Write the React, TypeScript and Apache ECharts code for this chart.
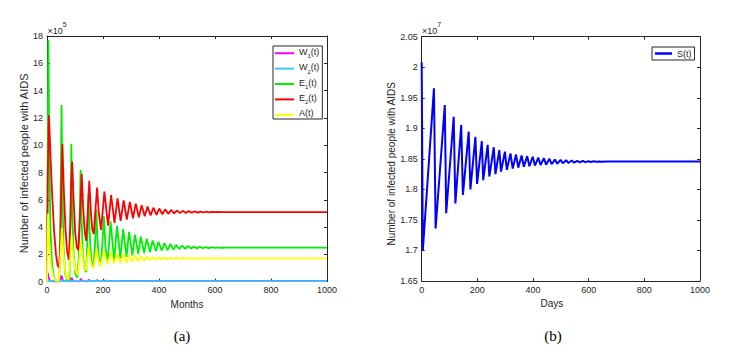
import React, { useEffect, useRef } from "react";
import * as echarts from "echarts";

const FONT = "Liberation Sans, Arial, sans-serif";
const SERIF = "Liberation Serif, Times New Roman, serif";
const INK = "#262626";

// Left panel (a): months, values in units of 1e5
const MONTH_TICKS = [0, 200, 400, 600, 800, 1000];
const LEFT_Y_TICKS = [0, 2, 4, 6, 8, 10, 12, 14, 16, 18];
const LEFT_NAMES = ["W1(t)", "W2(t)", "E1(t)", "E2(t)", "A(t)"];
const LEFT_COLORS = ["#ff00ff", "#33ccff", "#00ee00", "#ff0000", "#ffff00"];

const W1: [number, number][] = [
  [0, 0.1], [3, 0.65], [7, 0.2], [14, 0.03], [46, 0.02], [52, 0.45], [57, 0.06],
  [84, 0.02], [88, 0.3], [93, 0.04], [117, 0.03], [121, 0.22], [126, 0.04],
  [146, 0.03], [149, 0.16], [154, 0.04], [175, 0.04], [178, 0.12], [183, 0.04],
  [202, 0.04], [205, 0.09], [210, 0.04], [227, 0.04], [230, 0.07], [235, 0.04],
  [260, 0.05], [1000, 0.05],
];

const W2: [number, number][] = [[0, 0.2], [4, 0.05], [1000, 0.04]];

const E1: [number, number][] = [
  [0, 0.3], [2, 8], [5, 17.7], [8, 10], [12, 4], [18, 1.2], [25, 0.3], [34, 0.05],
  [44, 0.1], [48, 5], [52, 12.95], [55, 7], [59, 2.5], [65, 0.6], [72, 0.1],
  [80, 0.2], [84, 4.5], [87, 10.1], [90, 5.5], [95, 2], [101, 0.6], [108, 0.3],
  [114, 1.8], [117, 5], [120, 8.2], [123, 5], [128, 2], [134, 0.9], [140, 0.7],
  [144, 3], [148, 6.5], [152, 3.8], [158, 1.6], [165, 1.0], [171, 2.5], [176, 5.3],
  [180, 3.2], [186, 1.5], [192, 1.2], [198, 2.8], [203, 4.8], [209, 2.5],
  [217, 1.4], [227, 4.4], [240, 1.55], [250, 4.1], [262, 1.7], [272, 3.85],
  [284, 1.82], [293, 3.65], [305, 1.93], [314, 3.45], [326, 2.03], [335, 3.3],
  [347, 2.1], [356, 3.15], [368, 2.17], [377, 3.02], [389, 2.23], [398, 2.92],
  [410, 2.28], [419, 2.83], [431, 2.32], [440, 2.76], [452, 2.36], [461, 2.7],
  [473, 2.39], [482, 2.65], [494, 2.41], [503, 2.61], [515, 2.43], [524, 2.58],
  [536, 2.44], [545, 2.56], [557, 2.45], [566, 2.54], [578, 2.46], [587, 2.53],
  [599, 2.47], [608, 2.51], [620, 2.48], [640, 2.5], [1000, 2.5],
];

const E2: [number, number][] = [
  [0, 0.5], [3, 8], [7, 12.2], [12, 9.5], [18, 6.5], [25, 3.8], [32, 2], [38, 1.2],
  [44, 1.0], [48, 3], [51, 7], [55, 10.1], [60, 6.8], [66, 3.8], [72, 2.2],
  [78, 1.6], [83, 4], [86, 7], [90, 8.8], [95, 6], [101, 3.5], [107, 2.5],
  [112, 2.3], [117, 4.5], [124, 7.9], [129, 5.5], [135, 3.6], [140, 3.0],
  [145, 4.8], [151, 7.4], [157, 5], [162, 3.8], [167, 3.5], [172, 5], [179, 6.9],
  [185, 5], [193, 3.8], [205, 6.6], [218, 4.1], [229, 6.35], [241, 4.3],
  [252, 6.1], [263, 4.45], [274, 5.95], [285, 4.55], [296, 5.85], [307, 4.65],
  [317, 5.72], [328, 4.72], [338, 5.6], [349, 4.8], [359, 5.5], [370, 4.86],
  [380, 5.42], [391, 4.9], [401, 5.36], [412, 4.94], [422, 5.3], [433, 4.97],
  [443, 5.26], [454, 5.0], [464, 5.22], [475, 5.02], [485, 5.19], [496, 5.04],
  [506, 5.17], [517, 5.05], [527, 5.15], [538, 5.06], [548, 5.14], [559, 5.07],
  [569, 5.13], [580, 5.08], [590, 5.12], [601, 5.09], [611, 5.11], [630, 5.1],
  [1000, 5.1],
];

const A: [number, number][] = [
  [0, 0], [2, 3.5], [4, 5.0], [8, 3], [14, 1.2], [22, 0.4], [32, 0.1], [42, 0.05],
  [47, 1.5], [53, 3.95], [58, 2.2], [64, 0.9], [70, 0.3], [76, 0.15], [82, 1.5],
  [88, 3.4], [93, 2], [100, 0.9], [106, 0.6], [110, 0.5], [115, 1.5], [121, 3.0],
  [127, 1.8], [133, 1.0], [138, 0.8], [143, 1.6], [149, 2.6], [155, 1.6],
  [161, 1.1], [166, 1.0], [171, 1.6], [177, 2.4], [183, 1.6], [192, 1.15],
  [203, 2.25], [216, 1.27], [228, 2.12], [239, 1.34], [251, 2.05], [262, 1.38],
  [273, 2.0], [284, 1.42], [294, 1.96], [305, 1.46], [315, 1.92], [326, 1.5],
  [336, 1.88], [347, 1.54], [357, 1.84], [368, 1.57], [378, 1.81], [389, 1.6],
  [399, 1.79], [410, 1.62], [420, 1.77], [431, 1.64], [441, 1.755], [452, 1.66],
  [462, 1.74], [473, 1.675], [483, 1.73], [494, 1.69], [504, 1.72], [515, 1.7],
  [530, 1.715], [1000, 1.71],
];

// Right panel (b): days, values in units of 1e7
const DAY_TICKS = [0, 200, 400, 600, 800, 1000];
const RIGHT_Y_TICKS = [1.65, 1.7, 1.75, 1.8, 1.85, 1.9, 1.95, 2, 2.05];
const S: [number, number][] = [
  [0, 2.008], [4, 1.7], [44, 1.9655], [50, 1.736], [83, 1.938], [88, 1.761],
  [115, 1.919], [121, 1.777], [142, 1.9055], [148, 1.791], [169, 1.8945],
  [175, 1.8], [193, 1.886], [199, 1.809], [216, 1.879], [221, 1.815],
  [237, 1.873], [243, 1.821], [259, 1.869], [265, 1.825], [279, 1.8645],
  [285, 1.829], [299, 1.8617], [306, 1.832], [319, 1.859], [327, 1.834],
  [339, 1.857], [347, 1.8355], [359, 1.8555], [367, 1.837], [379, 1.8545],
  [387, 1.838], [399, 1.8535], [407, 1.839], [419, 1.852], [427, 1.8398],
  [439, 1.851], [447, 1.8405], [459, 1.85], [467, 1.8413], [479, 1.849],
  [487, 1.842], [499, 1.8483], [507, 1.8427], [519, 1.8477], [527, 1.8433],
  [539, 1.8472], [547, 1.8438], [559, 1.8468], [567, 1.8442], [579, 1.8465],
  [587, 1.8446], [599, 1.8462], [607, 1.8449], [619, 1.846], [627, 1.8451],
  [639, 1.8458], [647, 1.8453], [665, 1.8455], [1000, 1.8455],
];

const Y_NAME = "Number of infected people with AIDS";

function makeAxis(
  gridIndex: number,
  position: string,
  ticks: number[],
  labels: boolean,
  extra: any = {}
) {
  const step = +(ticks[1] - ticks[0]).toFixed(4);
  return {
    type: "value",
    gridIndex,
    position,
    min: ticks[0],
    max: ticks[ticks.length - 1],
    interval: step,
    axisLine: { show: true, onZero: false, lineStyle: { color: INK, width: 1 } },
    axisTick: { show: true, inside: true, length: 3, lineStyle: { color: INK, width: 1 } },
    splitLine: { show: false },
    axisLabel: {
      show: labels,
      color: INK,
      fontSize: 9,
      fontFamily: FONT,
      margin: 4,
      formatter: (v: number) => String(parseFloat(v.toFixed(2))),
    },
    ...extra,
  };
}

const nameMap = (name: string) => {
  const m = name.match(/^([A-Z])(\d?)(\(t\))$/);
  if (!m) return name;
  return m[2] ? `{b|${m[1]}}{s|${m[2]}}{b|${m[3]}}` : `{b|${name}}`;
};

export default function App() {
  const ref = useRef<HTMLDivElement>(null);
  useEffect(() => {
    if (!ref.current) return;
    const chart = echarts.init(ref.current, null, { renderer: "svg" });
    const leftData = [W1, W2, E1, E2, A];
    const series: any[] = leftData.map((d, i) => ({
      type: "line",
      name: LEFT_NAMES[i],
      data: d,
      xAxisIndex: 0,
      yAxisIndex: 0,
      symbol: "none",
      showSymbol: false,
      clip: false,
      silent: true,
      lineStyle: { color: LEFT_COLORS[i], width: 1.8 },
      itemStyle: { color: LEFT_COLORS[i] },
    }));
    series.push({
      type: "line",
      name: "S(t)",
      data: S,
      xAxisIndex: 2,
      yAxisIndex: 2,
      symbol: "none",
      showSymbol: false,
      clip: false,
      silent: true,
      lineStyle: { color: "#0000ff", width: 2 },
      itemStyle: { color: "#0000ff" },
    });

    const richLegend = {
      b: { fontSize: 9, lineHeight: 12, verticalAlign: "top", fontFamily: FONT, color: INK },
      s: { fontSize: 6, lineHeight: 6, verticalAlign: "bottom", fontFamily: FONT, color: INK },
    };
    const richMult = {
      b: { fontSize: 9, lineHeight: 14, verticalAlign: "bottom", fontFamily: FONT, fill: INK },
      p: { fontSize: 7, lineHeight: 8, verticalAlign: "top", fontFamily: FONT, fill: INK },
    };

    const option: any = {
      animation: false,
      backgroundColor: "#ffffff",
      grid: [
        { left: 47, top: 36, width: 280, height: 245.7 },
        { left: 421.7, top: 36.7, width: 278.3, height: 244.3 },
      ],
      xAxis: [
        makeAxis(0, "bottom", MONTH_TICKS, true, {
          name: "Months",
          nameLocation: "middle",
          nameGap: 17,
          nameTextStyle: { color: INK, fontSize: 10, fontFamily: FONT },
        }),
        makeAxis(0, "top", MONTH_TICKS, false),
        makeAxis(1, "bottom", DAY_TICKS, true, {
          name: "Days",
          nameLocation: "middle",
          nameGap: 17,
          nameTextStyle: { color: INK, fontSize: 10, fontFamily: FONT, padding: [0, 18, 0, 0] },
        }),
        makeAxis(1, "top", DAY_TICKS, false),
      ],
      yAxis: [
        makeAxis(0, "left", LEFT_Y_TICKS, true, {
          name: Y_NAME,
          nameLocation: "middle",
          nameGap: 14,
          nameTextStyle: { color: INK, fontSize: 11, fontFamily: FONT, padding: [0, 9, 0, 0] },
        }),
        makeAxis(0, "right", LEFT_Y_TICKS, false),
        makeAxis(1, "left", RIGHT_Y_TICKS, true, {
          name: Y_NAME,
          nameLocation: "middle",
          nameGap: 19,
          nameTextStyle: { color: INK, fontSize: 10, fontFamily: FONT, padding: [0, 10, 0, 0] },
        }),
        makeAxis(1, "right", RIGHT_Y_TICKS, false),
      ],
      legend: [
        {
          data: LEFT_NAMES,
          orient: "vertical",
          left: 273,
          top: 46,
          itemWidth: 19,
          itemHeight: 2,
          itemGap: 3.4,
          icon: "rect",
          padding: [1.2, 3, 1.2, 2],
          borderColor: INK,
          borderWidth: 1,
          backgroundColor: "#ffffff",
          selectedMode: false,
          formatter: nameMap,
          textStyle: { fontSize: 9, fontFamily: FONT, color: INK, rich: richLegend },
        },
        {
          data: ["S(t)"],
          orient: "vertical",
          left: 652,
          top: 47,
          itemWidth: 17,
          itemHeight: 2.5,
          icon: "rect",
          padding: [1, 3, 1, 3],
          borderColor: INK,
          borderWidth: 1,
          backgroundColor: "#ffffff",
          selectedMode: false,
          textStyle: { fontSize: 9, lineHeight: 11, fontFamily: FONT, color: INK },
        },
      ],
      graphic: [
        { type: "text", left: 47.5, top: 21, style: { text: "{b|×10}{p|5}", rich: richMult } },
        { type: "text", left: 422, top: 21, style: { text: "{b|×10}{p|7}", rich: richMult } },
        {
          type: "text",
          x: 182,
          y: 336,
          style: { text: "(a)", fontSize: 15, fontFamily: SERIF, fill: "#000", align: "center", verticalAlign: "middle" },
        },
        {
          type: "text",
          x: 553,
          y: 336,
          style: { text: "(b)", fontSize: 15, fontFamily: SERIF, fill: "#000", align: "center", verticalAlign: "middle" },
        },
      ],
      series,
    };
    chart.setOption(option);
    return () => chart.dispose();
  }, []);
  return (
    <div
      ref={ref}
      style={{ position: "absolute", left: 0, top: 0, width: 731, height: 356, background: "#fff" }}
    />
  );
}
